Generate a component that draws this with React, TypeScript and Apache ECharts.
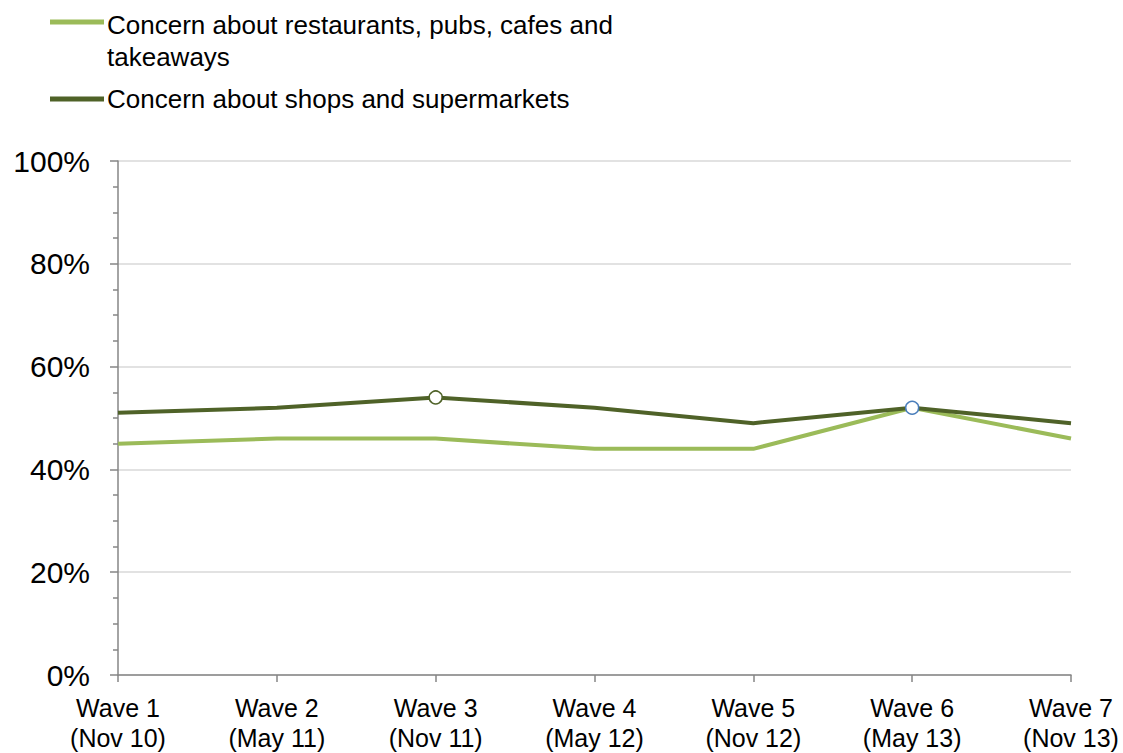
import React, { useEffect, useRef } from "react";
import * as echarts from "echarts";

const categories = [
  "Wave 1\n(Nov 10)",
  "Wave 2\n(May 11)",
  "Wave 3\n(Nov 11)",
  "Wave 4\n(May 12)",
  "Wave 5\n(Nov 12)",
  "Wave 6\n(May 13)",
  "Wave 7\n(Nov 13)",
];
const restaurants = [45, 46, 46, 44, 44, 52, 46];
const shops = [51, 52, 54, 52, 49, 52, 49];
const seriesNames = [
  "Concern about restaurants, pubs, cafes and\ntakeaways",
  "Concern about shops and supermarkets",
];
const lightGreen = "#9BBB59";
const darkGreen = "#4F6228";
const font = "'Liberation Sans', Arial, sans-serif";

export default function App() {
  const ref = useRef<HTMLDivElement>(null);
  useEffect(() => {
    if (!ref.current) return;
    const chart = echarts.init(ref.current, null, { renderer: "svg" });
    const shopsData = shops.map((v, i) => {
      if (i === 2)
        return {
          value: v,
          symbol: "circle",
          symbolSize: 13,
          itemStyle: { color: "#ffffff", borderColor: darkGreen, borderWidth: 1.5 },
        };
      if (i === 5)
        return {
          value: v,
          symbol: "circle",
          symbolSize: 13,
          itemStyle: { color: "#ffffff", borderColor: "#4A7EBB", borderWidth: 1.5 },
        };
      return { value: v, symbol: "none" };
    });
    chart.setOption({
      animation: false,
      backgroundColor: "#ffffff",
      grid: { left: 118, right: 52, top: 161, bottom: 78, containLabel: false },
      graphic: [
        {
          type: "line",
          shape: { x1: 50, y1: 22, x2: 104, y2: 22 },
          style: { stroke: lightGreen, lineWidth: 5 },
        },
        {
          type: "text",
          x: 107,
          y: 9,
          style: {
            text: seriesNames[0],
            font: `26px ${font}`,
            lineHeight: 32,
            fill: "#000000",
            verticalAlign: "top",
          },
        },
        {
          type: "line",
          shape: { x1: 50, y1: 99, x2: 104, y2: 99 },
          style: { stroke: darkGreen, lineWidth: 5 },
        },
        {
          type: "text",
          x: 107,
          y: 83,
          style: {
            text: seriesNames[1],
            font: `26px ${font}`,
            lineHeight: 32,
            fill: "#000000",
            verticalAlign: "top",
          },
        },
      ],
      xAxis: {
        type: "category",
        data: categories,
        boundaryGap: false,
        axisLine: { lineStyle: { color: "#868686", width: 1.5 } },
        axisTick: { show: true, length: 7, lineStyle: { color: "#868686", width: 1.5 } },
        axisLabel: {
          color: "#000000",
          fontSize: 25,
          fontFamily: font,
          lineHeight: 30,
          margin: 18,
          interval: 0,
        },
        splitLine: { show: false },
      },
      yAxis: {
        type: "value",
        min: 0,
        max: 100,
        interval: 20,
        axisLine: { show: true, lineStyle: { color: "#868686", width: 1.5 } },
        axisTick: { show: true, length: 8, lineStyle: { color: "#868686", width: 1.5 } },
        minorTick: { show: true, splitNumber: 4, length: 5, lineStyle: { color: "#868686", width: 1.5 } },
        axisLabel: {
          color: "#000000",
          fontSize: 30,
          fontFamily: font,
          margin: 28,
          formatter: "{value}%",
        },
        splitLine: { show: true, lineStyle: { color: "#D9D9D9", width: 1.5 } },
      },
      series: [
        {
          name: seriesNames[0],
          type: "line",
          data: restaurants,
          symbol: "none",
          lineStyle: { color: lightGreen, width: 4 },
          itemStyle: { color: lightGreen },
          z: 2,
        },
        {
          name: seriesNames[1],
          type: "line",
          data: shopsData,
          showAllSymbol: true,
          lineStyle: { color: darkGreen, width: 4 },
          itemStyle: { color: darkGreen },
          z: 3,
        },
      ],
    });
    return () => chart.dispose();
  }, []);
  return <div ref={ref} style={{ width: 1123, height: 753, position: "absolute", left: 0, top: 0 }} />;
}
